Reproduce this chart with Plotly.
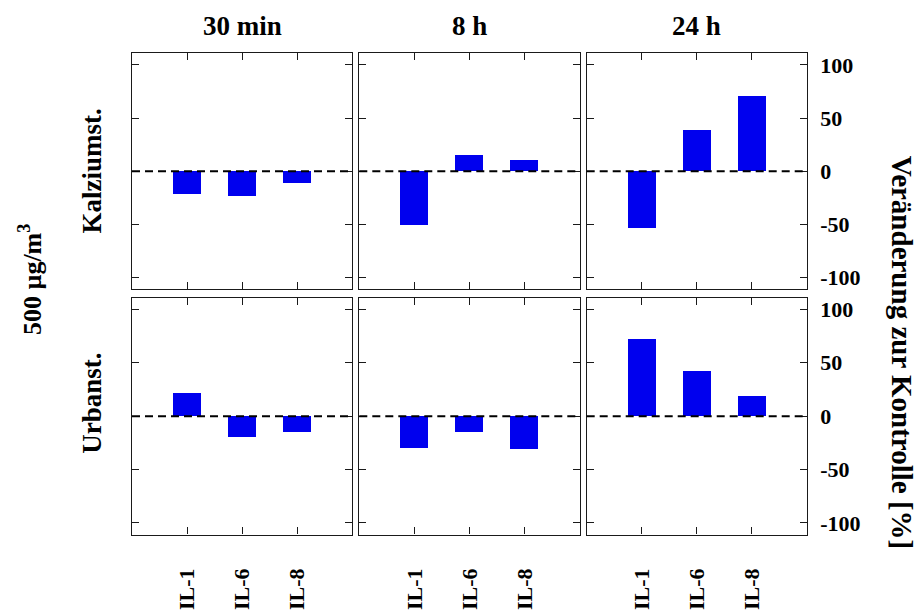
import plotly.graph_objects as go

W, H = 920, 610

categories = ["IL-1", "IL-6", "IL-8"]
times = ["30 min", "8 h", "24 h"]
rows_labels = ["Kalziumst.", "Urbanst."]

# Veränderung zur Kontrolle [%]
kalzium_30min = [-21.5, -23.4, -11.2]
kalzium_8h = [-50.8, 15.3, 10.0]
kalzium_24h = [-53.7, 39.0, 70.5]
urban_30min = [22.4, -19.3, -14.7]
urban_8h = [-29.6, -15.0, -30.9]
urban_24h = [72.2, 42.3, 19.6]

y_ticks = [-100, -50, 0, 50, 100]
y_ticktext = ["-100", "-50", "0", "50", "100"]
y_range = [-111, 111]

data = [[kalzium_30min, kalzium_8h, kalzium_24h],
        [urban_30min, urban_8h, urban_24h]]

FONT = "Liberation Serif, Times New Roman, serif"
BAR_COLOR = "rgb(0,0,238)"
LINE_COLOR = "#1a1a1a"

col_px = [(132, 352.3), (359.3, 579.7), (586.7, 806.7)]
row_px = [(52.3, 289.3), (297.7, 535.3)]

fig = go.Figure()
layout = {}
shapes = []
for r in range(2):
    for c in range(3):
        idx = r * 3 + c + 1
        xa = "x" if idx == 1 else f"x{idx}"
        ya = "y" if idx == 1 else f"y{idx}"
        fig.add_trace(go.Bar(
            x=categories, y=data[r][c], xaxis=xa, yaxis=ya,
            marker=dict(color=BAR_COLOR, line=dict(width=0)),
            width=0.515, showlegend=False, hoverinfo="x+y"))
        xk = "xaxis" if idx == 1 else f"xaxis{idx}"
        yk = "yaxis" if idx == 1 else f"yaxis{idx}"
        x0, x1 = col_px[c]
        t0, t1 = row_px[r]
        layout[xk] = dict(
            domain=[x0 / W, x1 / W], anchor=ya, type="category",
            categoryorder="array", categoryarray=categories,
            range=[-1, 3], showline=True, mirror="ticks",
            linecolor=LINE_COLOR, linewidth=1.3,
            ticks="inside", ticklen=7, tickwidth=1, tickcolor=LINE_COLOR,
            showgrid=False, zeroline=False,
            showticklabels=(r == 1), tickangle=-90,
            ticklabelstandoff=24,
            tickfont=dict(family=FONT, size=22, color="black", weight="bold"),
            fixedrange=True)
        layout[yk] = dict(
            domain=[1 - t1 / H, 1 - t0 / H], anchor=xa,
            range=y_range, tickmode="array",
            tickvals=y_ticks, ticktext=y_ticktext,
            showline=True, mirror="ticks",
            linecolor=LINE_COLOR, linewidth=1.3,
            ticks="inside", ticklen=7, tickwidth=1, tickcolor=LINE_COLOR,
            showgrid=False, zeroline=False,
            side="right" if c == 2 else "left",
            showticklabels=(c == 2), ticklabelstandoff=8,
            tickfont=dict(family=FONT, size=22, color="black", weight="bold"),
            fixedrange=True)
        shapes.append(dict(
            type="line", xref=f"{xa} domain", yref=ya,
            x0=0, x1=1, y0=0, y1=0, layer="above",
            line=dict(color="black", width=2, dash="8px,5px")))

annotations = []
tfont = dict(family=FONT, size=27, color="black", weight="bold")
for c, t in enumerate(times):
    x0, x1 = col_px[c]
    annotations.append(dict(text=t, x=(x0 + x1) / 2 / W, y=1 - 25 / H,
                            xref="paper", yref="paper", showarrow=False,
                            xanchor="center", yanchor="middle", font=tfont))
row_centers = [171, 404]
for r, lab in enumerate(rows_labels):
    annotations.append(dict(text=lab, x=92 / W, y=1 - row_centers[r] / H,
                            xref="paper", yref="paper", showarrow=False,
                            textangle=-90, xanchor="center", yanchor="middle",
                            font=tfont))
annotations.append(dict(text="500 µg/m<sup>3</sup>", x=30 / W, y=1 - 280 / H,
                        xref="paper", yref="paper", showarrow=False,
                        textangle=-90, xanchor="center", yanchor="middle",
                        font=dict(family=FONT, size=26, color="black",
                                  weight="bold")))
annotations.append(dict(text="Veränderung zur Kontrolle [%]", x=902 / W,
                        y=1 - 352 / H, xref="paper", yref="paper",
                        showarrow=False, textangle=90, xanchor="center",
                        yanchor="middle",
                        font=dict(family=FONT, size=29, color="black",
                                  weight="bold")))

fig.update_layout(
    width=W, height=H, margin=dict(l=0, r=0, t=0, b=0),
    paper_bgcolor="white", plot_bgcolor="white",
    font=dict(family=FONT, color="black", weight="bold"),
    bargap=0, shapes=shapes, annotations=annotations, **layout)

fig.write_html("out.html")
